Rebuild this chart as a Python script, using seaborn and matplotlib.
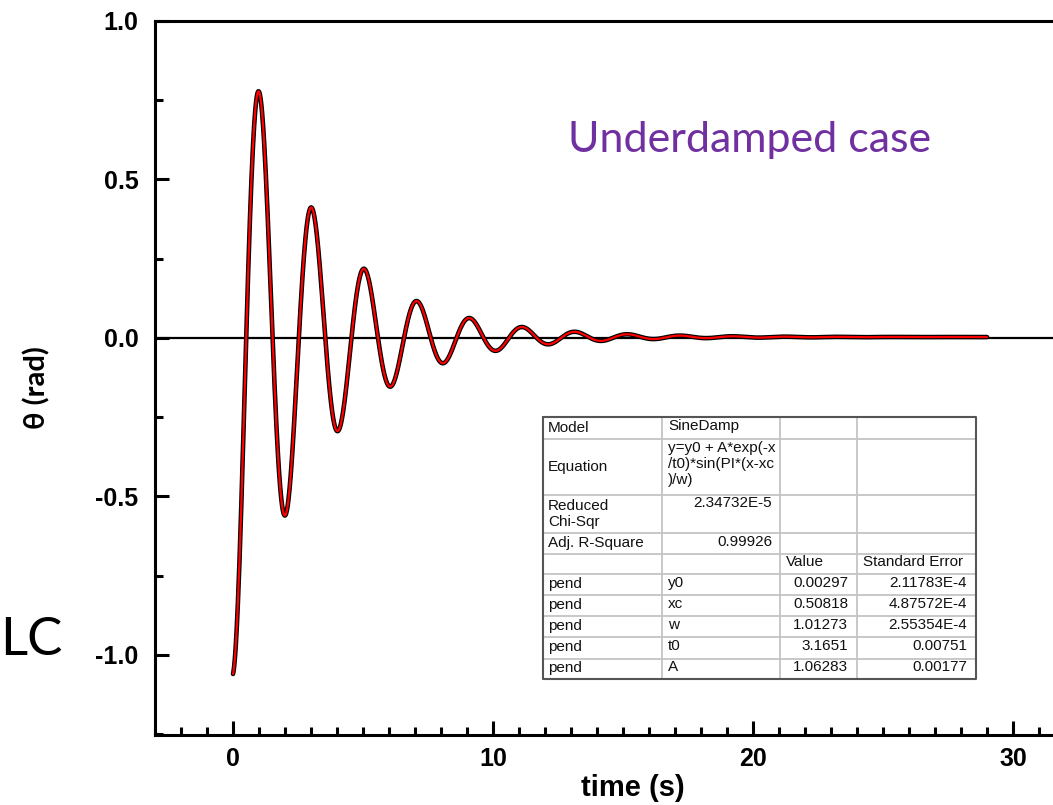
import numpy as np
import pandas as pd
import matplotlib
matplotlib.use("Agg")
import matplotlib.pyplot as plt
from matplotlib.ticker import MultipleLocator
import seaborn as sns

# ---- data: fitted SineDamp parameters as shown in the result table ----
param_names = ["y0", "xc", "w", "t0", "A"]
param_values = [0.00297, 0.50818, 1.01273, 3.1651, 1.06283]
param_errors = ["2.11783E-4", "4.87572E-4", "2.55354E-4", "0.00751", "0.00177"]
value_labels = ["0.00297", "0.50818", "1.01273", "3.1651", "1.06283"]
time_range = [0.0, 29.0]
reduced_chisqr = "2.34732E-5"
adj_r2 = "0.99926"

x_ticks = [0, 10, 20, 30]
y_ticks = [-1.0, -0.5, 0.0, 0.5, 1.0]

p = dict(zip(param_names, param_values))
t = np.linspace(time_range[0], time_range[1], 2000)
theta = p["y0"] + p["A"] * np.exp(-t / p["t0"]) * np.sin(np.pi * (t - p["xc"]) / p["w"])
df = pd.DataFrame({"time": t, "theta": theta})

sns.set_theme(style="white")
plt.rcParams["font.family"] = ["Liberation Sans", "DejaVu Sans"]
plt.rcParams["text.color"] = "black"
plt.rcParams["axes.labelcolor"] = "black"
plt.rcParams["xtick.color"] = "black"
plt.rcParams["ytick.color"] = "black"

W, H = 1053, 805
fig = plt.figure(figsize=(W / 100, H / 100), dpi=100)
ax_left, ax_right, ax_top, ax_bot = 155, 1111, 21, 735
ax = fig.add_axes([ax_left / W, 1 - ax_bot / H, (ax_right - ax_left) / W, (ax_bot - ax_top) / H])

ax.axhline(0, color="black", lw=1.6, zorder=1)
sns.lineplot(data=df, x="time", y="theta", ax=ax, color="black", lw=3.3, zorder=2)
sns.lineplot(data=df, x="time", y="theta", ax=ax, color="#ff0000", lw=1.6, zorder=3)

ax.set_xlim(-3, 33.77)
ax.set_ylim(-1.2524, 1.0)
ax.set_xticks(x_ticks)
ax.set_yticks(y_ticks)
ax.set_yticklabels([f"{v:.1f}" for v in y_ticks])
ax.xaxis.set_minor_locator(MultipleLocator(1))
ax.yaxis.set_minor_locator(MultipleLocator(0.25))
ax.tick_params(axis="both", which="both", direction="in", width=2.2, color="black",
               labelcolor="black", bottom=True, left=True, top=False, right=False)
ax.tick_params(axis="both", which="major", length=10, labelsize=18)
ax.tick_params(axis="both", which="minor", length=5.5)
ax.tick_params(axis="y", which="major", pad=12)
ax.tick_params(axis="x", which="major", pad=9)
for lab in ax.get_xticklabels() + ax.get_yticklabels():
    lab.set_fontweight("bold")

for side in ["left", "bottom", "top"]:
    ax.spines[side].set_visible(True)
    ax.spines[side].set_color("black")
    ax.spines[side].set_linewidth(2.2)
ax.spines["right"].set_visible(False)

ax.set_xlabel("time (s)", fontsize=21, fontweight="bold", color="black")
ax.xaxis.label.set_va("center")
ax.xaxis.set_label_coords(0.5, (H - 788 - (H - ax_bot)) / (ax_bot - ax_top))
ax.set_ylabel("θ (rad)", fontsize=21, fontweight="bold", color="black",
              family=["Lato", "DejaVu Sans"])
ax.yaxis.label.set_va("center")
ax.yaxis.label.set_ha("center")
ax.yaxis.set_label_coords((37 - ax_left) / (ax_right - ax_left), (ax_bot - 388) / (ax_bot - ax_top))

fig.text(750 / W, 1 - 140 / H, "Underdamped case", color="#7030A0", fontsize=31,
         family=["Lato", "DejaVu Sans"], ha="center", va="center")
fig.text(0 / W, 1 - 655 / H, "LC", color="black", fontsize=38,
         family=["Lato", "DejaVu Sans"], ha="left", va="baseline")

# ---- inset result table ----
tl, tr, tt, tb = 543, 976, 417, 679
tax = fig.add_axes([tl / W, 1 - tb / H, (tr - tl) / W, (tb - tt) / H])
tax.set_xlim(tl, tr)
tax.set_ylim(tb, tt)
tax.axis("off")
col_edges = [543, 662, 780, 857, 976]
row_edges = [417, 439, 495, 533, 554, 574, 595, 616, 637, 659, 679]
for xe in col_edges[1:-1]:
    tax.plot([xe, xe], [tt, tb], color="#c4c4c4", lw=1.3)
for ye in row_edges[1:-1]:
    tax.plot([tl, tr], [ye, ye], color="#c4c4c4", lw=1.3)
tax.plot([tl, tr, tr, tl, tl], [tt, tt, tb, tb, tt], color="#555555", lw=1.5, clip_on=False)

fs = 11
def cell(x, y, s, ha="left", va="center", ls=1.15):
    tax.text(x, y, s, fontsize=fs, ha=ha, va=va, color="#111111", linespacing=ls)

cell(548, 428, "Model")
cell(668, 426, "SineDamp")
cell(548, 467, "Equation")
cell(668, 441, "y=y0 + A*exp(-x\n/t0)*sin(PI*(x-xc\n)/w)", va="top", ls=1.2)
cell(548, 514, "Reduced\nChi-Sqr", ls=1.25)
cell(772, 503, reduced_chisqr, ha="right")
cell(548, 543, "Adj. R-Square")
cell(772, 542, adj_r2, ha="right")
cell(786, 562, "Value")
cell(863, 562, "Standard Error")
row_centers = [584, 605, 626, 647, 668]
for yc, nm, v, e in zip(row_centers, param_names, value_labels, param_errors):
    cell(548, yc, "pend")
    cell(668, yc - 1, nm)
    cell(848, yc - 1, v, ha="right")
    cell(967, yc - 1, e, ha="right")

fig.savefig("out.png", dpi=100)
